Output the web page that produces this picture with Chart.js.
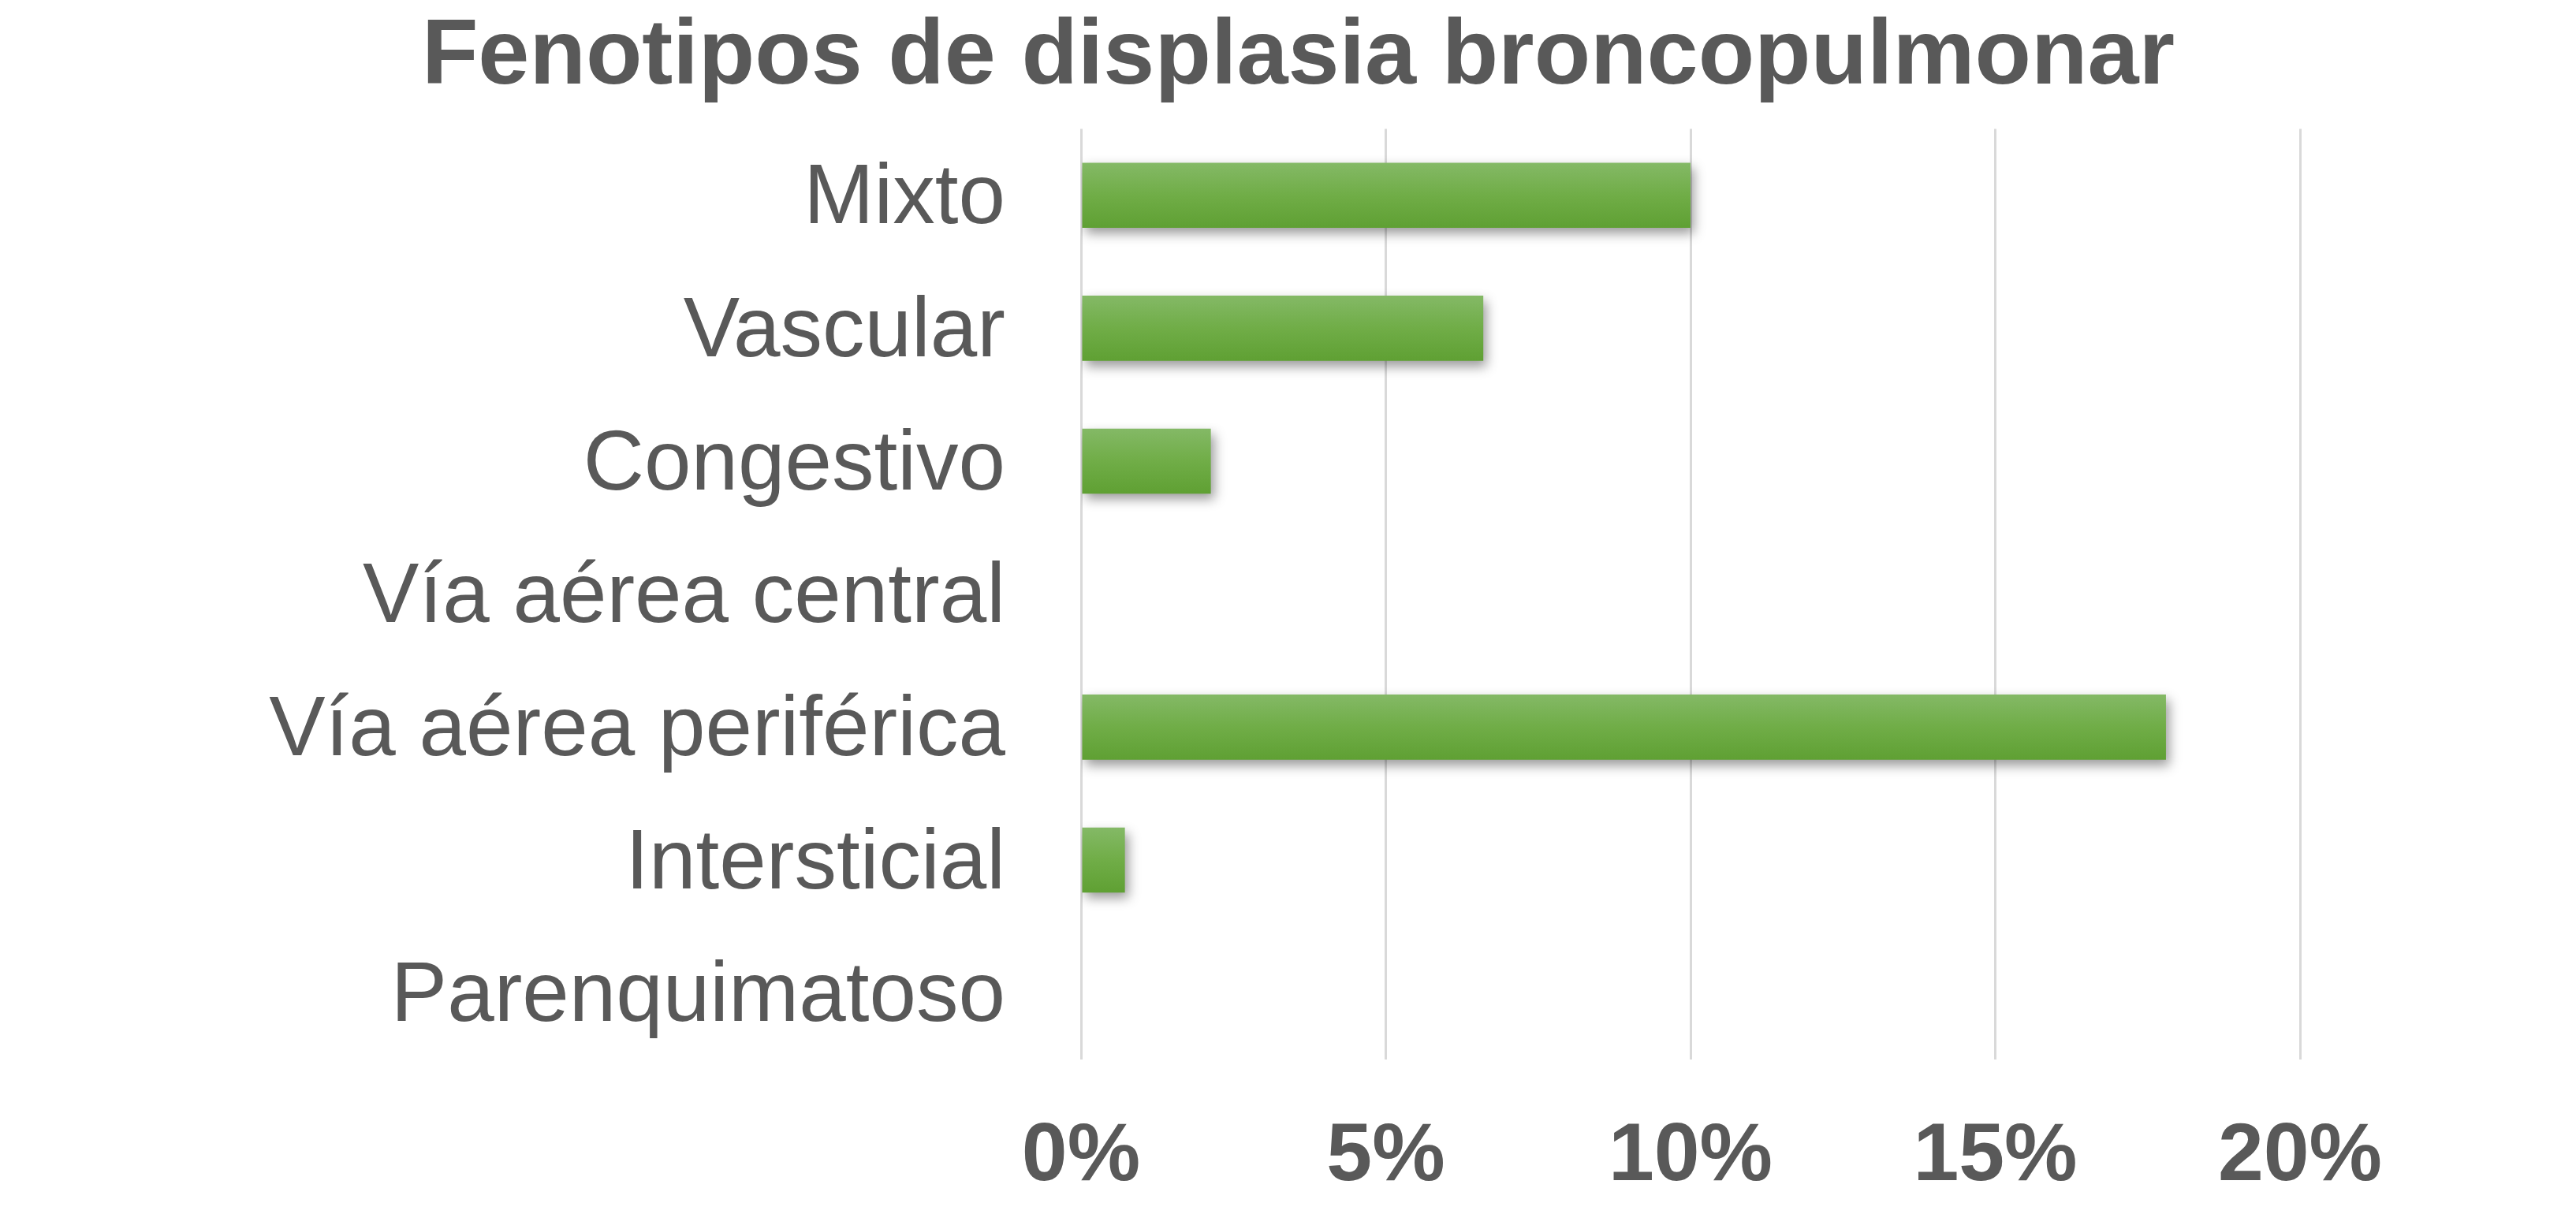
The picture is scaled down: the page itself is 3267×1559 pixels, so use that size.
<!DOCTYPE html>
<html>
<head>
<meta charset="utf-8">
<script src="https://cdn.jsdelivr.net/npm/chart.js@4"></script>
<style>
  html, body { margin: 0; padding: 0; background: #fff; }
  #wrap { width: 3267px; height: 1559px; }
</style>
</head>
<body>
<div id="wrap"><canvas id="fenotipos" width="3267" height="1559"></canvas></div>
<script>
// categorias y valores (porcentaje)
var categorias = ['Mixto', 'Vascular', 'Congestivo', 'Vía aérea central', 'Vía aérea periférica', 'Intersticial', 'Parenquimatoso'];
var porcentajes = [10.0, 6.6, 2.13, 0, 17.8, 0.72, 0];
var ticksX = [0, 5, 10, 15, 20];

var gris = '#595959';
var catPct = 0.49;

function degradado(context) {
    var chart = context.chart;
    var y = chart.scales && chart.scales.y;
    if (!y || !chart.chartArea) return '#70ad47';
    var centro = y.getPixelForValue(context.dataIndex);
    var mitad = (y.height / categorias.length) * catPct / 2;
    var g = chart.ctx.createLinearGradient(0, centro - mitad, 0, centro + mitad);
    g.addColorStop(0, '#84b966');
    g.addColorStop(0.5, '#70ad47');
    g.addColorStop(1, '#5fa033');
    return g;
}

var sombra = {
    id: 'sombra',
    beforeDatasetsDraw: function (chart) {
        var ctx = chart.ctx;
        ctx.save();
        ctx.shadowColor = 'rgba(0,0,0,0.4)';
        ctx.shadowBlur = 14;
        ctx.shadowOffsetX = 4;
        ctx.shadowOffsetY = 7;
    },
    afterDatasetsDraw: function (chart) {
        chart.ctx.restore();
    }
};

document.addEventListener('DOMContentLoaded', function () {
    var ctx = document.getElementById('fenotipos').getContext('2d');
    new Chart(ctx, {
        type: 'bar',
        data: {
            labels: categorias,
            datasets: [{
                label: 'Fenotipos',
                data: porcentajes,
                backgroundColor: degradado,
                borderWidth: 0,
                barPercentage: 1,
                categoryPercentage: catPct
            }]
        },
        options: {
            indexAxis: 'y',
            responsive: false,
            animation: false,
            layout: { padding: { left: 26, right: 0, top: 0, bottom: 0 } },
            plugins: {
                legend: { display: false },
                tooltip: { enabled: false },
                title: {
                    display: true,
                    text: 'Fenotipos de displasia broncopulmonar',
                    color: gris,
                    font: { family: 'Liberation Sans, Arial, sans-serif', size: 117, weight: 'bold', lineHeight: 1.2 },
                    padding: { top: 4, bottom: 19 }
                }
            },
            scales: {
                x: {
                    min: 0,
                    max: 20,
                    afterBuildTicks: function (scale) {
                        scale.ticks = ticksX.map(function (v) { return { value: v }; });
                    },
                    afterFit: function (scale) { scale.height = 215; },
                    grid: { color: '#d9d9d9', lineWidth: 3, drawTicks: false },
                    border: { display: false },
                    ticks: {
                        color: gris,
                        padding: 62,
                        font: { family: 'Liberation Sans, Arial, sans-serif', size: 104, weight: 'bold' },
                        callback: function (v) { return v + '%'; }
                    }
                },
                y: {
                    afterFit: function (scale) { scale.width = 1345; },
                    grid: { display: false, drawTicks: false },
                    border: { display: false },
                    ticks: {
                        color: gris,
                        padding: 96,
                        labelOffset: 6,
                        font: { family: 'Liberation Sans, Arial, sans-serif', size: 107 }
                    }
                },
                margen: {
                    axis: 'y',
                    type: 'category',
                    position: 'right',
                    afterFit: function (scale) { scale.width = 350; },
                    grid: { display: false, drawTicks: false },
                    border: { display: false },
                    ticks: { display: false }
                }
            }
        },
        plugins: [sombra]
    });
});
</script>
</body>
</html>
